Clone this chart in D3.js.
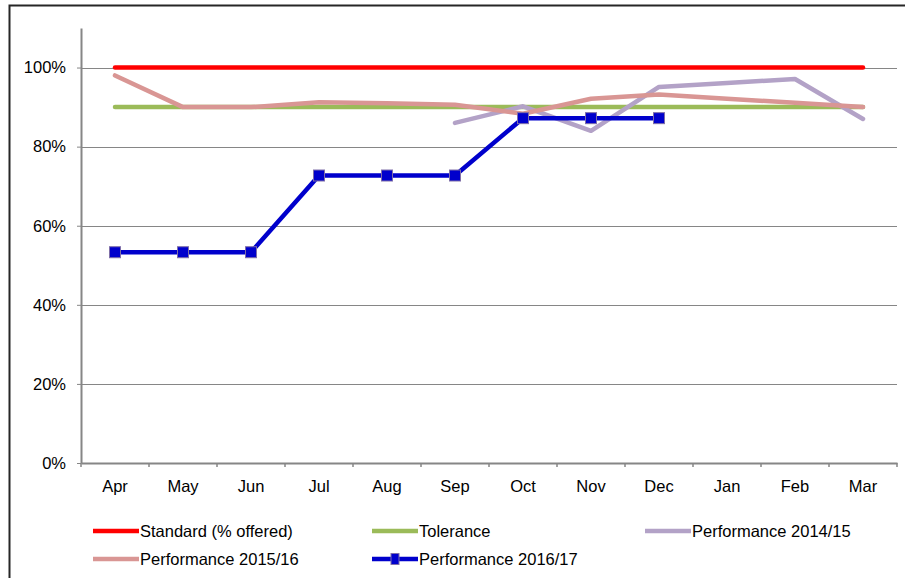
<!DOCTYPE html>
<html>
<head>
<meta charset="utf-8">
<script src="https://cdn.jsdelivr.net/npm/d3@7"></script>
<style>
  body { margin: 0; background: #fff; }
  svg text { font-family: "Liberation Sans", Arial, sans-serif; font-size: 16.5px; fill: #000; }
</style>
</head>
<body>
<div id="chart"></div>
<script>
// monthly values, percent
var months = ["Apr","May","Jun","Jul","Aug","Sep","Oct","Nov","Dec","Jan","Feb","Mar"];
var standard = [100,100,100,100,100,100,100,100,100,100,100,100];
var tolerance = [90,90,90,90,90,90,90,90,90,90,90,90];
var perf1415 = [null,null,null,null,null,86,90.2,84,95.1,96.1,97.1,87];
var perf1516 = [98,90,90,91.2,91,90.6,88.3,92.1,93.2,92.1,91.1,90];
var perf1617 = [53.3,53.3,53.3,72.7,72.7,72.7,87.2,87.2,87.2,null,null,null];
var yTicks = [0,20,40,60,80,100];

var series = [
  {name: "Standard (% offered)", values: standard, color: "#ff0000", width: 4.5},
  {name: "Tolerance", values: tolerance, color: "#9bbb59", width: 4.5},
  {name: "Performance 2014/15", values: perf1415, color: "#b3a2c7", width: 4.5},
  {name: "Performance 2015/16", values: perf1516, color: "#d99694", width: 4.5},
  {name: "Performance 2016/17", values: perf1617, color: "#0000cc", width: 4.5, marker: true}
];

var W = 905, H = 578;
var plotL = 81, plotR = 897, plotT = 28, plotB = 463;

var svg = d3.select("#chart").append("svg").attr("width", W).attr("height", H);

// outer frame
svg.append("rect").attr("x", 9.5).attr("y", 5.5).attr("width", W).attr("height", H)
   .attr("fill", "none").attr("stroke", "#262626").attr("stroke-width", 2);

var x = d3.scaleBand().domain(months).range([plotL, plotR]).padding(0);
var y = d3.scaleLinear().domain([0, 110]).range([plotB, plotT]);

// gridlines
svg.append("g").selectAll("line").data(yTicks.filter(function(d){ return d > 0; }))
  .enter().append("line")
  .attr("x1", plotL).attr("x2", plotR)
  .attr("y1", function(d){ return Math.round(y(d)) + 0.5; })
  .attr("y2", function(d){ return Math.round(y(d)) + 0.5; })
  .attr("stroke", "#868686").attr("stroke-width", 1);

// y axis
var yAxis = svg.append("g").attr("transform", "translate(" + plotL + ",0)")
  .call(d3.axisLeft(y).tickValues(yTicks).tickFormat(function(d){ return d + "%"; })
        .tickSize(4).tickSizeOuter(0).tickPadding(11));
yAxis.select(".domain").attr("stroke", "#868686").attr("stroke-width", 2);
yAxis.selectAll(".tick line").attr("stroke", "#868686");
yAxis.selectAll("text").style("font-size", "16.5px");

// x axis
var xAxis = svg.append("g").attr("transform", "translate(0," + plotB + ")")
  .call(d3.axisBottom(x).tickSize(0).tickSizeOuter(0).tickPadding(17));
xAxis.select(".domain").attr("stroke", "#868686").attr("stroke-width", 2);
xAxis.selectAll("text").style("font-size", "16.5px");

// x tick marks at category boundaries
var bounds = months.map(function(m){ return x(m); }).concat([plotR]);
svg.append("g").selectAll("line").data(bounds).enter().append("line")
  .attr("x1", function(d){ return d; }).attr("x2", function(d){ return d; })
  .attr("y1", plotB).attr("y2", plotB + 4)
  .attr("stroke", "#868686").attr("stroke-width", 1.5);

var cx = function(i){ return x(months[i]) + x.bandwidth() / 2; };
var line = d3.line()
  .defined(function(d){ return d != null; })
  .x(function(d, i){ return cx(i); })
  .y(function(d){ return y(d); });

series.forEach(function(s){
  svg.append("path").datum(s.values)
    .attr("d", line)
    .attr("fill", "none")
    .attr("stroke", s.color)
    .attr("stroke-width", s.width)
    .attr("stroke-linejoin", "round")
    .attr("stroke-linecap", "round");
  if (s.marker) {
    svg.append("g").selectAll("rect")
      .data(s.values.map(function(v, i){ return {v: v, i: i}; }).filter(function(d){ return d.v != null; }))
      .enter().append("rect")
      .attr("x", function(d){ return cx(d.i) - 5.5; })
      .attr("y", function(d){ return y(d.v) - 5.5; })
      .attr("width", 11).attr("height", 11)
      .attr("fill", "#0000cc").attr("stroke", "#7f6fa8").attr("stroke-width", 1);
  }
});

// legend
var legendPos = [[93,531],[372,531],[645,531],[93,559],[372,559]];
var lg = svg.append("g").selectAll("g").data(series).enter().append("g")
  .attr("transform", function(d, i){ return "translate(" + legendPos[i][0] + "," + legendPos[i][1] + ")"; });
lg.append("line").attr("x1", 0).attr("x2", 46).attr("y1", 0).attr("y2", 0)
  .attr("stroke", function(d){ return d.color; }).attr("stroke-width", 4.5);
lg.filter(function(d){ return d.marker; }).append("rect")
  .attr("x", 19).attr("y", -5.5).attr("width", 8).attr("height", 11)
  .attr("fill", "#0000cc").attr("stroke", "#7f6fa8").attr("stroke-width", 1);
lg.append("text").attr("x", 47).attr("y", 0).attr("dy", "0.36em")
  .text(function(d){ return d.name; });
</script>
</body>
</html>
